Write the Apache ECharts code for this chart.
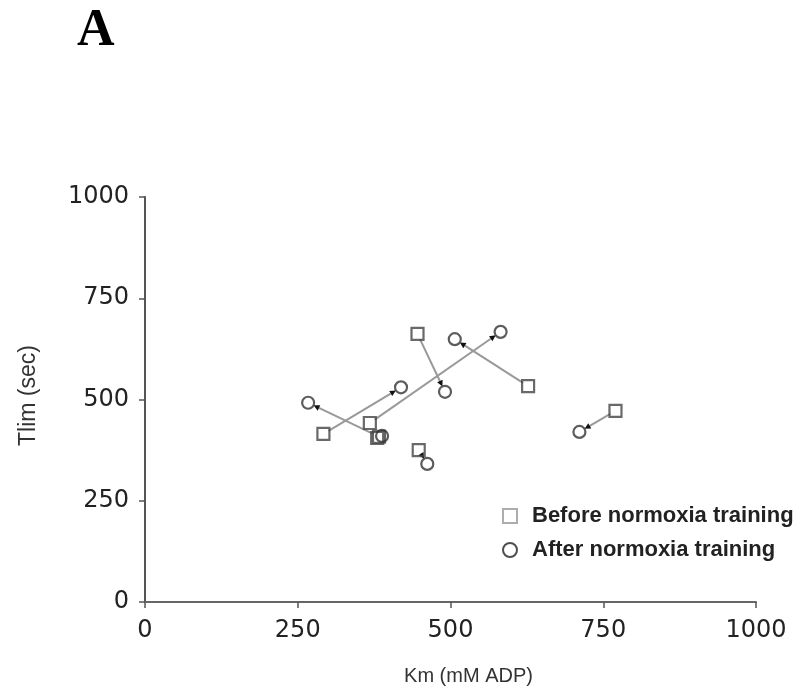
<!DOCTYPE html>
<html><head><meta charset="utf-8">
<script src="https://cdn.jsdelivr.net/npm/echarts@6/dist/echarts.min.js"></script>
<style>html,body{margin:0;padding:0;background:#fff}#c{width:802px;height:699px}</style>
</head><body><div id="c"></div>
<script>
var beforeKm   = [292, 383, 368, 446, 627, 448, 770, 380];
var beforeTlim = [415, 408, 442, 662, 533, 375, 472, 405];
var afterKm    = [419, 267, 582, 491, 507, 462, 711, 388];
var afterTlim  = [530, 492, 667, 519, 649, 341, 420, 410];
var axisTicks = [0, 250, 500, 750, 1000];
var legendNames = ['Before normoxia training', 'After normoxia training'];

var beforeData = beforeKm.map(function(v,i){return [v, beforeTlim[i]];});
var afterData = afterKm.map(function(v,i){return [v, afterTlim[i]];});
var pairData = beforeKm.map(function(v,i){return [v, beforeTlim[i], afterKm[i], afterTlim[i]];});

var chart = echarts.init(document.getElementById('c'), null, {renderer:'canvas'});
var font = 'Liberation Sans, Arial, sans-serif';
var tickFont = 'DejaVu Sans, sans-serif';
chart.setOption({
  animation:false,
  backgroundColor:'#fff',
  title:{text:'A', left:72, top:1, textStyle:{fontFamily:'Liberation Serif, Times New Roman, serif', fontWeight:'bold', fontSize:52, color:'#000'}},
  grid:{left:145, right:46, top:197, bottom:97},
  legend:{
    orient:'vertical', left:497, top:500, itemGap:12, itemWidth:14, itemHeight:14,
    textStyle:{fontFamily:font, fontSize:22, fontWeight:'bold', color:'#222', padding:[0,0,0,10]},
    data:[{name:legendNames[0], icon:'rect', itemStyle:{color:'#fff', borderColor:'#999', borderWidth:2}},
          {name:legendNames[1], icon:'circle', itemStyle:{color:'#fff', borderColor:'#222', borderWidth:2}}]
  },
  xAxis:{
    type:'value', min:axisTicks[0], max:axisTicks[axisTicks.length-1], interval:250,
    name:'Km (mM ADP)', nameLocation:'middle', nameGap:64,
    nameTextStyle:{fontFamily:font, fontSize:20, color:'#333', padding:[0,0,0,36]},
    splitLine:{show:false},
    axisLine:{lineStyle:{color:'#666', width:2}},
    axisTick:{length:6, lineStyle:{color:'#555', width:1.5}},
    axisLabel:{fontFamily:tickFont, fontSize:24, color:'#222', margin:17, formatter:function(v){return String(v);}}
  },
  yAxis:{
    type:'value', min:axisTicks[0], max:axisTicks[axisTicks.length-1], interval:250,
    name:'Tlim (sec)', nameLocation:'middle', nameGap:105, nameRotate:90,
    nameTextStyle:{fontFamily:font, fontSize:23, color:'#333', padding:[0,0,0,8]},
    splitLine:{show:false},
    axisLine:{lineStyle:{color:'#555', width:2}},
    axisTick:{length:6, lineStyle:{color:'#555', width:1.5}},
    axisLabel:{fontFamily:tickFont, fontSize:24, color:'#222', margin:16, formatter:function(v){return String(v);}}
  },
  series:[
    {
      type:'custom', name:'pairs', silent:true, z:1,
      data:pairData,
      renderItem:function(params, api){
        var p0 = api.coord([api.value(0), api.value(1)]);
        var p1 = api.coord([api.value(2), api.value(3)]);
        var dx = p1[0]-p0[0], dy = p1[1]-p0[1];
        var len = Math.sqrt(dx*dx+dy*dy) || 1;
        var ux = dx/len, uy = dy/len;
        var r = 6;
        var tip = [p1[0]-ux*r, p1[1]-uy*r];
        var ah = 6, aw = 3;
        var base = [tip[0]-ux*ah, tip[1]-uy*ah];
        var children = [];
        if (len > 14) {
          children.push({type:'line', shape:{x1:p0[0]+ux*6, y1:p0[1]+uy*6, x2:base[0], y2:base[1]}, style:{stroke:'#999', lineWidth:2}});
          children.push({type:'polygon', shape:{points:[tip,[base[0]-uy*aw, base[1]+ux*aw],[base[0]+uy*aw, base[1]-ux*aw]]}, style:{fill:'#111'}});
        }
        return {type:'group', children:children};
      }
    },
    {
      type:'scatter', name:legendNames[0], data:beforeData, symbol:'rect', symbolSize:12, z:3,
      itemStyle:{color:'rgba(255,255,255,0)', borderColor:'#444', borderWidth:2.2}
    },
    {
      type:'scatter', name:legendNames[1], data:afterData, symbol:'circle', symbolSize:12, z:3,
      itemStyle:{color:'rgba(255,255,255,0)', borderColor:'#333', borderWidth:2.2}
    }
  ]
});
</script></body></html>
